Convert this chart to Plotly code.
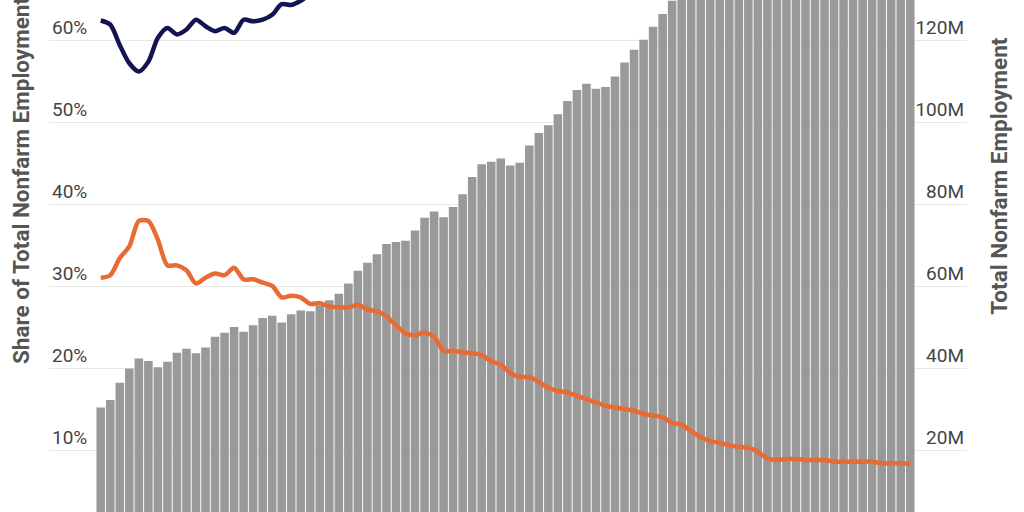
import plotly.graph_objects as go

# years shown as bars, 1939 to 2024
years = list(range(1939, 2025))

# total nonfarm employment, millions
total_nonfarm = [
    30.6, 32.4, 36.6, 40.1, 42.5, 41.9, 40.4, 41.7, 43.9, 44.9,
    43.8, 45.2, 47.8, 48.8, 50.2, 49.0, 50.6, 52.4, 52.9, 51.3,
    53.3, 54.2, 54.0, 55.5, 56.7, 58.3, 60.8, 63.9, 65.8, 67.9,
    70.4, 70.9, 71.2, 73.7, 76.8, 78.3, 76.9, 79.4, 82.5, 86.7,
    89.8, 90.4, 91.2, 89.5, 90.2, 94.4, 97.4, 99.3, 102.0, 105.2,
    107.9, 109.4, 108.2, 108.6, 111.2, 114.6, 117.7, 120.1, 123.3, 126.4,
    129.6, 131.8, 131.8, 130.3, 130.0, 131.4, 133.7, 136.1, 137.6, 136.8,
    130.8, 130.3, 131.8, 134.1, 136.4, 138.9, 141.8, 144.3, 146.6, 148.9,
    150.9, 142.2, 146.3, 152.5, 156.1, 158.7,
]

# share of total nonfarm employment, percent (navy line)
navy_share = [
    62.4, 61.9, 59.4, 57.2, 56.2, 57.4, 60.3, 61.5, 60.7, 61.3,
    62.5, 61.7, 61.1, 61.5, 60.9, 62.5, 62.3, 62.5, 63.1, 64.4,
    64.3, 64.8, 65.6, 65.9, 66.1, 66.0, 65.8, 66.2, 66.7, 66.8,
    67.5, 68.6, 69.0, 68.7, 68.9, 69.9, 70.8, 70.6, 70.5, 70.6,
    70.7, 71.5, 72.3, 73.3, 73.6, 73.7, 74.2, 74.9, 75.2, 75.4,
    75.6, 76.3, 76.9, 77.2, 77.3, 77.5, 77.7, 77.9, 78.1, 78.6,
    79.0, 79.5, 79.8, 80.1, 80.4, 80.6, 81.1, 81.9, 82.0, 81.9,
    82.0, 82.1, 82.1, 82.2, 82.2, 82.3, 82.4, 82.5, 82.5, 82.5,
    82.6, 82.9, 82.7, 82.8, 82.9, 83.0,
]

# share of total nonfarm employment, percent (orange line)
orange_share = [
    31.1, 31.4, 33.5, 34.9, 38.0, 38.0, 35.7, 32.6, 32.6, 32.0,
    30.4, 31.1, 31.6, 31.4, 32.3, 30.9, 30.9, 30.5, 30.1, 28.7,
    28.9, 28.7, 27.9, 28.0, 27.6, 27.5, 27.5, 27.8, 27.2, 27.0,
    26.4, 25.3, 24.3, 24.1, 24.4, 23.9, 22.2, 22.2, 22.0, 21.9,
    21.7, 20.9, 20.5, 19.5, 19.0, 19.0, 18.4, 17.7, 17.3, 17.1,
    16.7, 16.3, 15.9, 15.5, 15.3, 15.1, 14.9, 14.5, 14.3, 14.1,
    13.4, 13.2, 12.4, 11.7, 11.2, 11.0, 10.7, 10.5, 10.4, 9.9,
    9.1, 8.9, 9.0, 9.0, 8.9, 8.9, 8.9, 8.7, 8.7, 8.7,
    8.7, 8.7, 8.5, 8.5, 8.5, 8.4,
]

pct_ticks = [10, 20, 30, 40, 50, 60]
pct_labels = ["10%", "20%", "30%", "40%", "50%", "60%"]
emp_ticks = [20, 40, 60, 80, 100, 120]
emp_labels = ["20M", "40M", "60M", "80M", "100M", "120M"]

FONT = "Roboto"

fig = go.Figure()

# bars on the base axis so the lines (overlay axis) sit on top
fig.add_trace(go.Bar(x=years, y=total_nonfarm, marker_color="#999999",
                     marker_line_width=0, yaxis="y", name="Total Nonfarm Employment"))
fig.add_trace(go.Scatter(x=years, y=navy_share, mode="lines", yaxis="y2",
                         line=dict(color="#141452", width=4.5, shape="spline", smoothing=0.8)))
fig.add_trace(go.Scatter(x=years, y=orange_share, mode="lines", yaxis="y2",
                         line=dict(color="#e86a35", width=4.5, shape="spline", smoothing=0.8)))

fig.update_layout(
    width=1024, height=512,
    margin=dict(l=49, r=57, t=0, b=0, pad=0, autoexpand=False),
    paper_bgcolor="white", plot_bgcolor="white",
    showlegend=False, bargap=0.1, hovermode=False,
    font=dict(family=FONT, size=19, color="#444444"),
    xaxis=dict(range=[1933.565, 2029.96], visible=False, showgrid=False,
               zeroline=False, automargin=False),
    yaxis=dict(side="right", range=[5.14, 129.8], tickmode="array",
               tickvals=emp_ticks, ticktext=emp_labels,
               showgrid=True, gridcolor="#e8e8e8", gridwidth=1, zeroline=False,
               ticks="", ticklabelposition="inside top", showline=False,
               automargin=False),
    yaxis2=dict(side="left", overlaying="y", range=[2.57, 64.9], tickmode="array",
                tickvals=pct_ticks, ticktext=pct_labels, showgrid=False,
                zeroline=False, ticks="", ticklabelposition="inside top",
                showline=False, automargin=False),
)

fig.add_annotation(text="Share of Total Nonfarm Employment", xref="paper", yref="paper",
                   x=-0.0305, y=0.6465, xanchor="center", yanchor="middle", textangle=-90,
                   showarrow=False, font=dict(family=FONT, size=22.5, color="#555555", weight="bold"))
fig.add_annotation(text="Total Nonfarm Employment", xref="paper", yref="paper",
                   x=1.0349, y=0.655, xanchor="center", yanchor="middle", textangle=-90,
                   showarrow=False, font=dict(family=FONT, size=22.5, color="#555555", weight="bold"))

# drop the default page margin so the figure sits at the window's top-left corner
fig.write_html("out.html", config={"displayModeBar": False},
               post_script="document.body.style.margin = '0';")
